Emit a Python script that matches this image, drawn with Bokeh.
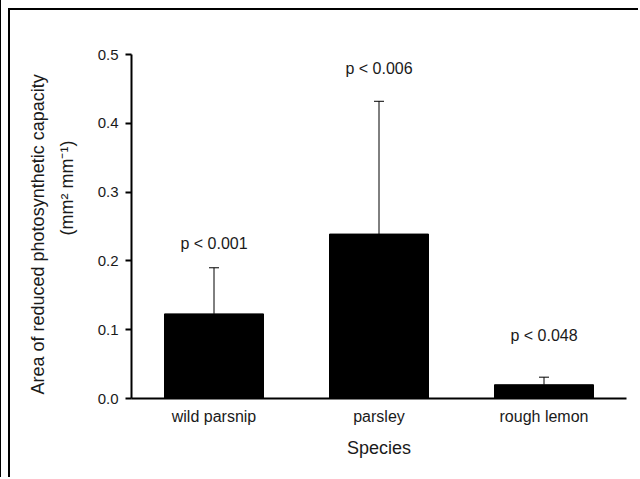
from bokeh.plotting import figure
from bokeh.models import ColumnDataSource, FactorRange, Whisker, TeeHead, Title, FixedTicker
from bokeh.core.properties import value
from bokeh.embed import file_html
from bokeh.resources import INLINE

# ---- data ----
species = ["wild parsnip", "parsley", "rough lemon"]
means = [0.123, 0.239, 0.020]
upper_err = [0.190, 0.432, 0.031]
p_labels = ["p < 0.001", "p < 0.006", "p < 0.048"]
p_label_y = [0.225, 0.480, 0.092]
y_ticks = [0.0, 0.1, 0.2, 0.3, 0.4, 0.5]
y_tick_labels = ["0.0", "0.1", "0.2", "0.3", "0.4", "0.5"]

FONT = "Liberation Sans"
TXT = "#1a1a1a"

src = ColumnDataSource(dict(species=species, means=means, upper=upper_err,
                            plab=p_labels, ply=p_label_y))

p = figure(width=630, height=469, x_range=FactorRange(factors=species),
           y_range=(0, 0.5), output_backend="svg", toolbar_location=None,
           min_border_left=121, min_border_right=14, min_border_top=44,
           min_border_bottom=81)
p.styles = {"margin-left": "8px", "margin-top": "8px",
            "border-top": "2px solid black", "border-left": "2px solid black",
            "box-shadow": ("-7px 0 0 0 white, -7px -8px 0 0 white, "
                           "-8px 0 0 0 black, -8px -8px 0 0 black")}
p.outline_line_color = None
p.xgrid.grid_line_color = None
p.ygrid.grid_line_color = None
p.background_fill_color = "white"
p.border_fill_color = "white"

p.vbar(x="species", top="means", width=0.6, source=src, fill_color="black",
       line_color="black")

wh = Whisker(source=src, base="species", lower="means", upper="upper",
             line_color="black", line_width=1, lower_head=None,
             upper_head=TeeHead(size=10, line_color="black", line_width=1))
p.add_layout(wh)

p.text(x="species", y="ply", text="plab", source=src, text_align="center",
       text_baseline="middle", text_font=value(FONT), text_font_size="16px",
       text_color=TXT)

# y axis
ya = p.yaxis[0]
ya.ticker = FixedTicker(ticks=y_ticks)
ya.major_label_overrides = {t: l for t, l in zip(y_ticks, y_tick_labels)}
ya.minor_tick_line_color = None
ya.major_tick_out = 6
ya.major_tick_in = 0
ya.major_tick_line_width = 2
ya.axis_line_width = 2
ya.major_label_standoff = 7
ya.major_label_text_font = FONT
ya.major_label_text_font_size = "15px"
ya.major_label_text_color = TXT

# x axis
xa = p.xaxis[0]
xa.major_tick_line_color = None
xa.major_tick_out = 0
xa.major_tick_in = 0
xa.minor_tick_line_color = None
xa.axis_line_width = 2
xa.major_label_standoff = 9
xa.major_label_text_font = FONT
xa.major_label_text_font_size = "16px"
xa.major_label_text_color = TXT
xa.axis_label = "Species"
xa.axis_label_standoff = 10
xa.axis_label_text_font = FONT
xa.axis_label_text_font_size = "18px"
xa.axis_label_text_font_style = "normal"
xa.axis_label_text_color = TXT

# spacer between tick labels and the y title
p.add_layout(Title(text=" ", standoff=14, text_font_size="1px",
                   text_color="white"), "left")
# y axis title (two lines), nearest line first
p.add_layout(Title(text="(mm² mm⁻¹)", align="left", offset=163, standoff=2,
                   text_font=FONT, text_font_size="18px", text_font_style="normal",
                   text_color=TXT), "left")
p.add_layout(Title(text="Area of reduced photosynthetic capacity", align="left",
                   offset=4, standoff=11, text_font=FONT, text_font_size="18px",
                   text_font_style="normal", text_color=TXT), "left")

open("out.html", "w").write(file_html(p, INLINE))
